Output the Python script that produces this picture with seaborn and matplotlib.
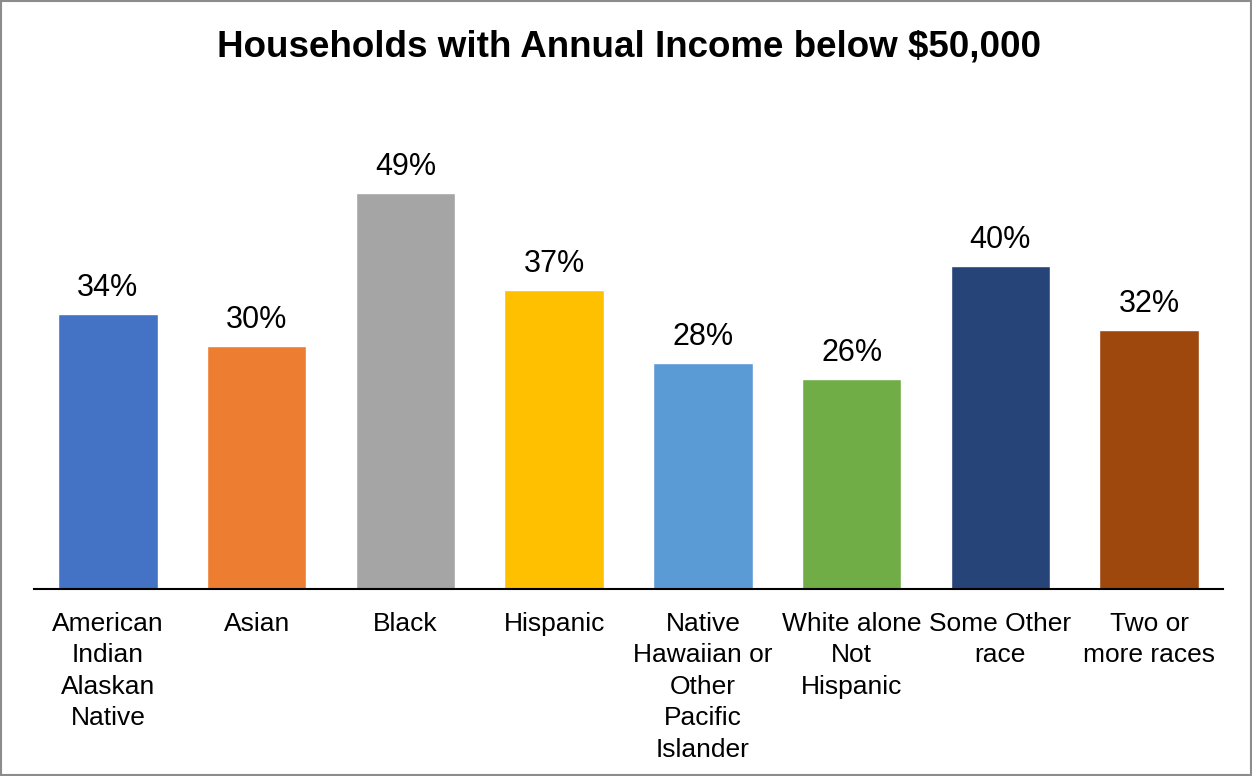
import matplotlib
matplotlib.use("Agg")
import matplotlib.pyplot as plt
import seaborn as sns
import pandas as pd
from matplotlib.patches import Rectangle

categories = [
    "American\nIndian\nAlaskan\nNative",
    "Asian",
    "Black",
    "Hispanic",
    "Native\nHawaiian or\nOther\nPacific\nIslander",
    "White alone\nNot\nHispanic",
    "Some Other\nrace",
    "Two or\nmore races",
]
share_below_50k = [34, 30, 49, 37, 28, 26, 40, 32]
bar_colors = ["#4472C4", "#ED7D31", "#A5A5A5", "#FFC000",
              "#5B9BD5", "#70AD47", "#264478", "#9E480E"]

df = pd.DataFrame({"group": categories, "pct": share_below_50k})

sns.set_theme(style="white")
plt.rcParams["font.family"] = ["Liberation Sans", "DejaVu Sans"]

fig = plt.figure(figsize=(12.52, 7.76), dpi=100)
ax = fig.add_axes([0.0268, 0.241, 0.9504, 0.625])

sns.barplot(data=df, x="group", y="pct", hue="group", palette=bar_colors,
            width=0.67, legend=False, saturation=1, ax=ax)

for cont in ax.containers:
    ax.bar_label(cont, fmt="%d%%", padding=8, fontsize=22, color="#000000")

ax.set_ylim(0, 60)
ax.set_xlim(-0.5, len(categories) - 0.5)
ax.set_xlabel("")
ax.set_ylabel("")
ax.set_yticks([])
for side in ["top", "right", "left"]:
    ax.spines[side].set_visible(False)
ax.spines["bottom"].set_color("#000000")
ax.spines["bottom"].set_linewidth(1.5)
ax.tick_params(axis="x", length=0, pad=16.5, labelsize=19, colors="#000000")
for lbl in ax.get_xticklabels():
    lbl.set_linespacing(1.39)
    lbl.set_verticalalignment("top")

fig.text(0.502, 0.940, "Households with Annual Income below $50,000",
         ha="center", va="center", fontsize=26.5, fontweight="bold", color="#000000")

fig.patches.append(Rectangle((0.001, 0.001), 0.998, 0.998, transform=fig.transFigure,
                             fill=False, edgecolor="#8C8C8C", linewidth=1.5))

fig.savefig("out.png", dpi=100)
